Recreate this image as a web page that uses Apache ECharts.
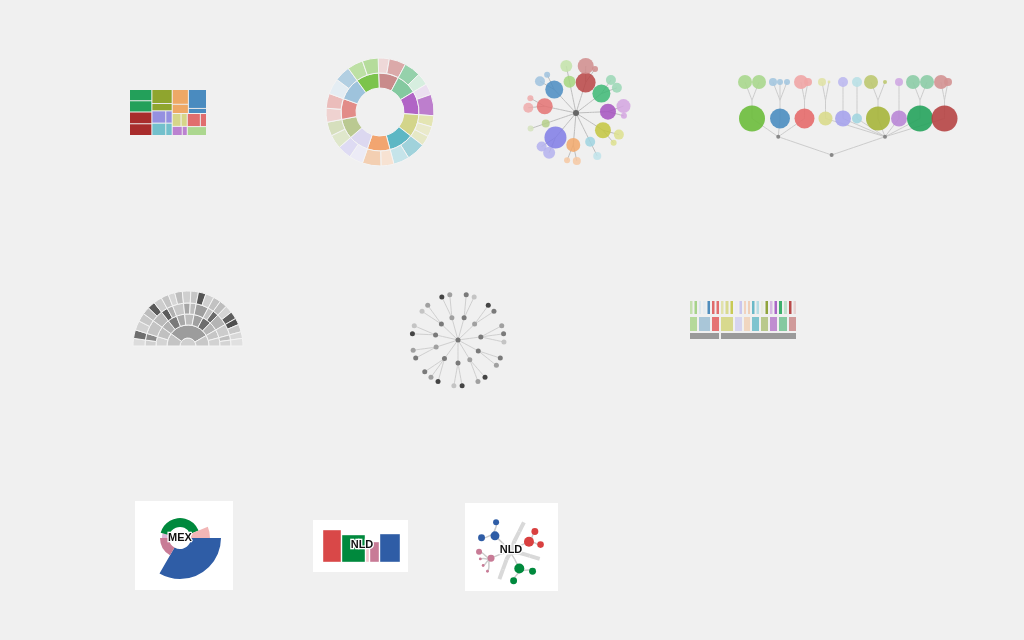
<!DOCTYPE html>
<html><head><meta charset="utf-8">
<script src="https://cdn.jsdelivr.net/npm/echarts@6/dist/echarts.min.js"></script>
<style>html,body{margin:0;padding:0;background:#f0f0f0;}#c{width:1024px;height:640px;}</style>
</head><body><div id="c"></div>
<script>
// ===== 1. Treemap =====
const tmNames = ['T1','T2','T3','T4','T5','T6','T7','T8','T9','T10','T11'];
const tmValues = [[22,22],[23,23],[25,13],[15,7],[15,7],[21,13],[30,8],[10,7],[8,4],[15,7],[15]];
const tmColors = ['#23a05a','#a82c2c','#8fa52e','#9590e0','#73c0cc','#eea866','#4a8bbf','#d6d689','#bb82d0','#e06e6e','#acd78f'];

// ===== 2. Sunburst (colored) =====
const sbNames = ['S1','S2','S3','S4','S5','S6','S7','S8','S9','S10','S11'];
const sbValues = [[12,18],[18,13],[12,23],[12,11,11],[20,17],[14,20],[15,15],[15,15],[15,16],[17,17],[17,17]];
const sbColors = ['#c98b8b','#84c9a0','#b164c6','#d3d58a','#5db7c4','#f2a570','#dcd8f0','#bac991','#e28c88','#9ec3dc','#7cc44c'];
const sbChildColors = [['#eed8d8','#dba9a9'],['#95d1ab','#d6eedf'],['#ebdff0','#bd7ecd'],['#e4e5b3','#eaeacb','#e6e8c6'],['#a0d2db','#c5e4ea'],['#f7e2d2','#f3cfb2'],['#ecebf6','#dedbf3'],['#dfe7cb','#d6dfbd'],['#efd2d0','#ebbdbb'],['#e4edf3','#b2cfe2'],['#bde0a5','#b5dc9b']];

// ===== 3. Radial tree (colored) =====
const rtNames = ['R1','R2','R3','R4','R5','R6','R7','R8','R9','R10','R11'];
const rtValues = [100,81,64,64,25,49,121,16,64,81,36];
const rtLeaves = [[64,9],[25,25],[49,9],[25,9],[16],[16,9],[36,25],[9],[25,9],[25,9],[36]];
const rtColors = ['#b84444','#3cb874','#a451c0','#c3c63e','#9fd4e0','#f2a86a','#7f7be6','#b5cf8a','#e47272','#4a8cc2','#a5d67e'];
const rtLeafColors = ['#d08c8c','#9ad7b5','#d3a5e0','#dde08e','#c0e3ea','#f6c8a2','#b4b2ee','#d5e3bd','#eeaaaa','#9fc2de','#c3e3a9'];

// ===== 4. Top-down tree =====
const ttNames = ['A1','A2','A3','B1','B2','B3','B4','B5','B6','B7'];
const ttSide = [0,0,0,1,1,1,1,1,1,1];
const ttValues = [169,100,100,49,64,25,144,64,169,169];
const ttLeaves = [[49,49],[16,9,9],[49,16],[16,2],[25],[25],[49,4],[16],[49,49],[49,16]];
const ttColors = ['#6cbd3b','#4b8dc0','#e66a6a','#d9da8c','#a6a3ec','#a2d5df','#a6b53a','#b987d6','#25a35c','#b64444'];
const ttLeafColors = ['#a8d78d','#a4c6df','#f0a5a5','#e0e2a6','#bcb9f0','#b9e0e6','#bcc870','#cfa8e2','#8ccca6','#d39292'];
const ttGapAfterFirst = [1,0,0,0,0,0,1,0,1,0]; // layout: spacer between first two leaves

// ===== 5. Gray half sunburst =====
const grayGroups = [
  [ [[8],[9]], [[10,9]] ],
  [ [[8,8]], [[9],[8]], [[7,8]], [[9],[8]], [[8,9]], [[8],[8]], [[8,8]] ],
  [ [[7,8]], [[7],[8]] ]
];
const grayRing2 = ['#c4c4c4','#9c9c9c','#c8c8c8'];
const grayRing3 = ['#d4d4d4','#c0c0c0','#b2b2b2','#7a7a7a','#a8a8a8','#bdbdbd','#a0a0a0','#6e6e6e','#b6b6b6','#c6c6c6','#d2d2d2'];
const grayRing4 = ['#d0d0d0','#8a8a8a','#c4c4c4','#bababa','#5c5c5c','#b0b0b0','#c8c8c8','#a6a6a6','#bdbdbd','#9e9e9e','#c2c2c2','#6a6a6a','#b4b4b4','#cccccc','#bfbfbf','#d4d4d4'];
const grayRing5 = ['#dcdcdc','#6e6e6e','#d2d2d2','#c8c8c8','#bcbcbc','#5a5a5a','#cdcdcd','#c4c4c4','#d6d6d6','#bdbdbd','#cfcfcf','#c6c6c6','#555555','#d0d0d0','#c2c2c2','#bdbdbd','#d4d4d4','#5e5e5e','#4f4f4f','#c8c8c8','#d8d8d8','#e0e0e0'];

// ===== 6. Gray radial tree =====
const gtLeaves = [[3,1],[4,3],[2,3,1],[3,2],[4,2],[4,1],[4,2,3],[3,2],[4,1],[1,2],[4,2]];
const gtBranch = [3,2,3,3,2,3,3,2,3,3,2];
const gtShades = ['#e2e2e2','#c4c4c4','#a0a0a0','#7a7a7a','#444444'];
const gtTitle = 'Parent';

// ===== 7. Icicle =====
const iceMid = [9,13,9,14,9,8,9,9,9,10,9];
const iceMidGroup = [0,0,0,1,1,1,1,1,1,1,1];
const iceTop = [[4.5,4.5],[4,4.5,4.5],[4.5,4.5],[4.5,5,4.5],[4.5,4.5],[4,4],[4.5,4.5],[4.5,4.5],[4.5,4.5],[5,5],[4.5,4.5]];
const iceMidColors = ['#b5d99a','#a9c6d8','#e57373','#d8d98e','#d6d4ef','#f0d6c0','#7ec4cf','#b9c98c','#c08dd0','#86c9a0','#d09a9a'];
const iceTopColors = [['#c4e0ad','#a6d38a'],['#dde7ee','#e6ecf1','#4f8dbd'],['#e06a6a','#e26e6e'],['#e1e2ac','#d9da90','#c8ca55'],['#ecebf5','#c9c6ee'],['#f1d3bf','#efcfb8'],['#6ab9c8','#b5dde5'],['#e8ecdc','#8fa43a'],['#d7b8e3','#a966c7'],['#3daf6c','#bfe3cc'],['#b94848','#e8d2d2']];
const iceBottomColor = '#9a9a9a';

// ===== 8. MEX radial =====
const mexNames = ['M1','M2','M3','M4','M5'];
const mexShare = [120,60,15,143,22];
const mexDepth = [29,8,6,8,18];
const mexColors = ['#2f5da6','#c87b96','#dcb6d8','#00893d','#f2b6b6'];

// ===== 9. NLD bars =====
const nldWidths = [19,24,4,10,21];
const nldHeights = [32,27,18,20,28];
const nldColors = ['#d94848','#00893d','#f2c6cd','#c87b96','#2f5da6'];

// ===== 10. NLD tree =====
const ntKind = ['gray','red','gray','green','gray','pink','blue'];
const ntValues = [0,25,0,25,0,12,20];
const ntLeaves = [[0],[12,11],[0],[12,12],[0],[2,2,2,9],[12,9]];
const ntSlots = [[1],[1,0,1],[1],[1,0,0,1],[1],[1,1,1,1],[1,0,0,1]]; // layout: 1 = leaf, 0 = spacer
const ntColorMap = {green:'#00893d', pink:'#c87b96', blue:'#2f5da6', red:'#d94040'};

// ---------------- build ----------------
const sz = v => 2 * Math.sqrt(v);
const hidden = (name, children, extra) => Object.assign({name:name, value:0, symbolSize:0, itemStyle:{opacity:0}, children:children}, extra||{});
const spacer = name => ({name:name, value:0, symbolSize:0, itemStyle:{opacity:0}, lineStyle:{opacity:0}});

const tmData = tmNames.map((n,i)=>({name:n, itemStyle:{color:tmColors[i]},
  children: tmValues[i].map((v,j)=>({name:n+'-'+j, value:v}))}));

const sbData = sbNames.map((n,i)=>({name:n, itemStyle:{color:sbColors[i]},
  children: sbValues[i].map((v,j)=>({name:n+'-'+j, value:v, itemStyle:{color:sbChildColors[i][j]}}))}));

const rtRoot = {name:'root', value:9, itemStyle:{color:'#666'},
  children: rtNames.map((n,i)=>hidden(n+'-h', [{name:n, value:rtValues[i], itemStyle:{color:rtColors[i], opacity:0.85},
    children: rtLeaves[i].map((v,j)=>({name:n+'-'+j, value:v, itemStyle:{color:rtLeafColors[i], opacity:0.85}}))}]))};

function ttNode(i){
  const leaves = ttLeaves[i].map((v,j)=>({name:ttNames[i]+'-'+j, value:v, itemStyle:{color:ttLeafColors[i], opacity:0.9}}));
  if (ttGapAfterFirst[i]) leaves.splice(1, 0, spacer(ttNames[i]+'-gap'));
  return {name:ttNames[i], value:ttValues[i], itemStyle:{color:ttColors[i], opacity:0.9},
    children:[hidden(ttNames[i]+'-h', leaves)]};
}
const ttRoot = {name:'root', value:4, itemStyle:{color:'#888'}, children:[0,1].map(s=>({
  name:'side'+s, value:4, itemStyle:{color:'#888'},
  children: ttNames.map((n,i)=>i).filter(i=>ttSide[i]===s).map(ttNode)}))};

let c3=0,c4=0,c5=0;
const grayHalf = {name:'gray', itemStyle:{color:'#cfcfcf'},
  children: grayGroups.map((g,gi)=>({name:'g'+gi, itemStyle:{color:grayRing2[gi]},
    children: g.map(r3=>({name:'r3', itemStyle:{color:grayRing3[(c3++)%grayRing3.length]},
      children: r3.map(r4=>({name:'r4', itemStyle:{color:grayRing4[(c4++)%grayRing4.length]},
        children: r4.map(v=>({name:'r5', value:v, itemStyle:{color:grayRing5[(c5++)%grayRing5.length]}}))}))}))}))};
const graySum = grayGroups.flat(3).reduce((a,b)=>a+b,0);
const grayData = [grayHalf, {name:'blank', value:graySum, itemStyle:{color:'rgba(0,0,0,0)', borderWidth:0}}];

const gtRoot = {name:'p', value:1, itemStyle:{color:'#777'},
  children: gtLeaves.map((lv,i)=>({name:'b'+i, value:1, itemStyle:{color:gtShades[gtBranch[i]]},
    children: lv.map((s,j)=>({name:'l'+i+'-'+j, value:1, itemStyle:{color:gtShades[s]}}))}))};

// icicle items
const iceItems = [];
let acc = 0;
const groupSums = [0,0];
iceMid.forEach((w,i)=>{
  groupSums[iceMidGroup[i]] += w;
  iceItems.push({value:[acc, acc+w, 1], itemStyle:{color:iceMidColors[i]}});
  let a2 = acc;
  iceTop[i].forEach((tw,j)=>{ iceItems.push({value:[a2, a2+tw, 0], itemStyle:{color:iceTopColors[i][j]}}); a2 += tw; });
  acc += w;
});
let accB = 0;
groupSums.forEach(s=>{ iceItems.push({value:[accB, accB+s, 2], itemStyle:{color:iceBottomColor}}); accB += s; });
const iceTotal = acc;
const iceBands = [[1,14],[17,31],[33,39]];
const iceInsets = [1,1,1];

// nld bars items
const nldItems = [];
let accN = 0;
nldWidths.forEach((w,i)=>{ nldItems.push({value:[accN, accN+w, nldHeights[i]], itemStyle:{color:nldColors[i]}}); accN += w; });

// nld tree
const grayLine = {width:4, color:'#d9d9d9'};
const ntRoot = {name:'NLD', value:0, symbolSize:0, children: ntKind.map((k,i)=>{
  if (k==='gray') return hidden('gb'+i, [hidden('gm'+i, [hidden('gl'+i, undefined, {lineStyle:grayLine})], {lineStyle:grayLine})], {lineStyle:grayLine});
  let li = 0;
  const kids = ntSlots[i].map((s,j)=> s ? {name:k+j, value:ntLeaves[i][li++], itemStyle:{color:ntColorMap[k]}} : spacer(k+'-gap'+j));
  return hidden('h'+i, [{name:k, value:ntValues[i], itemStyle:{color:ntColorMap[k]}, children: kids}]);
})};

function iceRender(params, api){
  const x0=api.value(0), x1=api.value(1), row=api.value(2);
  const band = iceBands[row], inset = iceInsets[row];
  const p0 = api.coord([x0, band[0]]), p1 = api.coord([x1, band[1]]);
  return {type:'rect', shape:{x:p0[0]+inset, y:Math.min(p0[1],p1[1]), width:Math.max(0.5,p1[0]-p0[0]-2*inset), height:Math.abs(p1[1]-p0[1])},
    style:{fill:api.visual('color')}};
}
function nldRender(params, api){
  const p0 = api.coord([api.value(0), 0]), p1 = api.coord([api.value(1), api.value(2)]);
  return {type:'rect', shape:{x:p0[0], y:p1[1], width:p1[0]-p0[0]-1, height:p0[1]-p1[1]},
    style:{fill:api.visual('color'), stroke:'rgba(255,255,255,0.5)', lineWidth:0.8}};
}

const treeCommon = {type:'tree', symbol:'circle', symbolSize: v=>sz(v||0), itemStyle:{borderWidth:0},
  label:{show:false}, leaves:{label:{show:false}}, expandAndCollapse:false, initialTreeDepth:-1,
  roam:false, silent:true, emphasis:{disabled:true}};

const series = [
  {type:'treemap', left:130, top:90, width:76, height:45, roam:false, nodeClick:false, sort:null, squareRatio:1,
   breadcrumb:{show:false}, label:{show:false}, upperLabel:{show:false}, silent:true,
   levels:[{itemStyle:{borderColor:'#f0f0f0', borderWidth:0, gapWidth:1}},
           {itemStyle:{borderColor:'#e6e6e6', borderWidth:0, gapWidth:1}},
           {itemStyle:{borderWidth:0}}],
   data: tmData},
  {type:'sunburst', center:[380,112], radius:[24,54], sort:null, startAngle:92, label:{show:false},
   itemStyle:{borderColor:'#f4f4f4', borderWidth:1}, silent:true, emphasis:{disabled:true}, data: sbData},
  Object.assign({}, treeCommon, {layout:'radial', left:528, top:65, width:96, height:96, data:[rtRoot],
   lineStyle:{color:'#bdbdbd', width:1, curveness:0}}),
  Object.assign({}, treeCommon, {orient:'BT', left:738, top:82, width:217, height:73, data:[ttRoot],
   lineStyle:{color:'#cccccc', width:1, curveness:0}}),
  {type:'sunburst', center:[188,346], radius:[0,55], sort:null, startAngle:180, label:{show:false},
   itemStyle:{borderColor:'#f4f4f4', borderWidth:1}, silent:true, emphasis:{disabled:true},
   levels:[{}, {r0:0, r:8}, {r0:8, r:21}, {r0:21, r:32}, {r0:32, r:43}, {r0:43, r:55}],
   data: grayData},
  Object.assign({}, treeCommon, {layout:'radial', left:412, top:294, width:92, height:92, data:[gtRoot],
   symbolSize:5, lineStyle:{color:'#cfcfcf', width:1, curveness:0}}),
  {type:'custom', xAxisIndex:0, yAxisIndex:0, renderItem:iceRender, data:iceItems, silent:true},
  {type:'custom', xAxisIndex:1, yAxisIndex:1, renderItem:nldRender, data:nldItems, silent:true},
  Object.assign({}, treeCommon, {layout:'radial', left:479, top:519, width:62, height:62, data:[ntRoot],
   lineStyle:{color:'#cccccc', width:1.5, curveness:0.5}})
];
mexShare.forEach((_,k)=>{
  series.push({type:'pie', center:[180,538], radius:[11, 12+mexDepth[k]], startAngle:0, clockwise:true,
    label:{show:false}, labelLine:{show:false}, silent:true, avoidLabelOverlap:false, emphasis:{disabled:true},
    itemStyle:{borderWidth:0},
    data: mexShare.map((v,i)=>({name:mexNames[i], value:v, itemStyle:{color: i===k ? mexColors[i] : 'rgba(0,0,0,0)'}}))});
});

const halo = (t,x,y)=>({type:'text', z:100, style:{text:t, x:x, y:y, textAlign:'center', textVerticalAlign:'middle',
  font:'bold 11px "Liberation Sans", Arial, sans-serif', fill:'#111', stroke:'#ffffff', lineWidth:2.5}});

const option = {
  animation:false, backgroundColor:'#f0f0f0',
  grid:[{left:689, top:300, width:iceTotal, height:40, show:false},
        {left:323, top:530, width:78, height:32, show:false}],
  xAxis:[{type:'value', gridIndex:0, min:0, max:iceTotal, show:false},
         {type:'value', gridIndex:1, min:0, max:nldWidths.reduce((a,b)=>a+b,0), show:false}],
  yAxis:[{type:'value', gridIndex:0, min:0, max:40, inverse:true, show:false},
         {type:'value', gridIndex:1, min:0, max:Math.max(...nldHeights), show:false}],
  graphic:{elements:[
    {type:'rect', z:0, shape:{x:135, y:501, width:98, height:89}, style:{fill:'#ffffff'}},
    {type:'rect', z:0, shape:{x:313, y:520, width:95, height:52}, style:{fill:'#ffffff'}},
    {type:'rect', z:0, shape:{x:465, y:503, width:93, height:88}, style:{fill:'#ffffff'}},
    {type:'text', z:90, style:{text:gtTitle, x:427, y:415, textAlign:'left', textVerticalAlign:'alphabetic',
      font:'20px "Liberation Sans", Arial, sans-serif', fill:'#444'}},
    {type:'rect', z:95, shape:{x:415, y:404.5, width:90, height:30}, style:{fill:'#f0f0f0'}},
    halo('MEX',180,538), halo('NLD',362,545), halo('NLD',511,550)
  ]},
  series: series
};
const chart = echarts.init(document.getElementById('c'), null, {renderer:'canvas'});
chart.setOption(option);
</script></body></html>
